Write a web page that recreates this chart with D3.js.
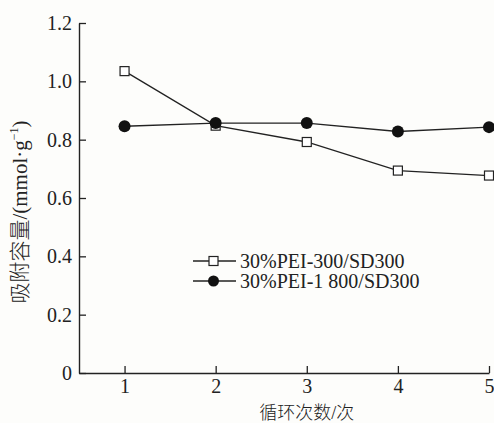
<!DOCTYPE html>
<html>
<head>
<meta charset="utf-8">
<script src="https://cdn.jsdelivr.net/npm/d3@7/dist/d3.min.js"></script>
<style>
  body { margin: 0; background: #fdfdfb; }
  svg { display: block; }
  svg text { font-family: "Liberation Serif", "Times New Roman", serif; fill: #222; }
  svg .cjk { font-family: "Noto Sans CJK SC", sans-serif; font-weight: 300; }
</style>
</head>
<body>
<div id="chart"></div>
<script>
// cycle number
var cycles = [1, 2, 3, 4, 5];
// adsorption capacity, mmol/g
var pei300 = [1.035, 0.848, 0.792, 0.694, 0.677];
var pei1800 = [0.846, 0.857, 0.857, 0.828, 0.843];
var seriesNames = ['30%PEI-300/SD300', '30%PEI-1 800/SD300'];
var yTicks = [0, 0.2, 0.4, 0.6, 0.8, 1.0, 1.2];

var W = 494, H = 423;
var margin = {top: 23, right: 5, bottom: 50, left: 79};
var width = W - margin.left - margin.right;
var height = H - margin.top - margin.bottom;
var serif = '"Liberation Serif", "Times New Roman", serif';

var svg = d3.select('#chart').append('svg')
    .attr('width', W)
    .attr('height', H);

var g = svg.append('g').attr('transform', 'translate(' + margin.left + ',' + margin.top + ')');

var x = d3.scaleLinear().domain([0.5, 5]).range([0, width]);
var y = d3.scaleLinear().domain([0, 1.2]).range([height, 0]);

// axes, ticks pointing inward
var xAxis = g.append('g')
    .attr('transform', 'translate(0,' + height + ')')
    .call(d3.axisBottom(x).tickValues(cycles).tickSize(-7).tickPadding(6).tickSizeOuter(0).tickFormat(d3.format('d')));

var yAxis = g.append('g')
    .call(d3.axisLeft(y).tickValues(yTicks).tickSize(-7).tickPadding(7).tickSizeOuter(0)
        .tickFormat(function(d) { return d === 0 ? '0' : d3.format('.1f')(d); }));

[xAxis, yAxis].forEach(function(a) {
    a.attr('font-family', serif);
    a.select('.domain').attr('stroke', '#222').attr('stroke-width', 1.4);
    a.selectAll('.tick line').attr('stroke', '#222').attr('stroke-width', 1.3);
    a.selectAll('.tick text').attr('font-size', 20).attr('fill', '#222')
        .style('font-family', serif);
});

// axis titles
var xTitle = svg.append('text')
    .attr('x', margin.left + x(3))
    .attr('y', 419)
    .attr('text-anchor', 'middle')
    .attr('font-size', 18);
xTitle.append('tspan').attr('class', 'cjk').text('循环次数');
xTitle.append('tspan').text('/');
xTitle.append('tspan').attr('class', 'cjk').text('次');

var yTitle = svg.append('text')
    .attr('transform', 'translate(27,212) rotate(-90)')
    .attr('text-anchor', 'middle')
    .attr('font-size', 21);
yTitle.append('tspan').attr('class', 'cjk').text('吸附容量');
yTitle.append('tspan').text('/(mmol·g');
yTitle.append('tspan').attr('font-size', 12).attr('dy', -9).text('−1');
yTitle.append('tspan').attr('dy', 9).text(')');

var line = d3.line()
    .x(function(d, i) { return x(cycles[i]); })
    .y(function(d) { return y(d); });

function drawSeries(values, shape) {
    g.append('path')
        .datum(values)
        .attr('fill', 'none')
        .attr('stroke', '#222')
        .attr('stroke-width', 1.3)
        .attr('d', line);
    var pts = g.append('g').selectAll('.pt').data(values).enter();
    if (shape === 'square') {
        pts.append('rect')
            .attr('x', function(d, i) { return x(cycles[i]) - 4.5; })
            .attr('y', function(d) { return y(d) - 4.5; })
            .attr('width', 9).attr('height', 9)
            .attr('fill', '#fff').attr('stroke', '#222').attr('stroke-width', 1.2);
    } else {
        pts.append('circle')
            .attr('cx', function(d, i) { return x(cycles[i]); })
            .attr('cy', function(d) { return y(d); })
            .attr('r', 6)
            .attr('fill', '#111');
    }
}

drawSeries(pei300, 'square');
drawSeries(pei1800, 'circle');

// legend
var legend = svg.append('g').attr('transform', 'translate(193,261)');
var rows = legend.selectAll('g').data(seriesNames).enter().append('g')
    .attr('transform', function(d, i) { return 'translate(0,' + i * 20 + ')'; });
rows.append('line')
    .attr('x1', 0).attr('x2', 43).attr('y1', 0).attr('y2', 0)
    .attr('stroke', '#222').attr('stroke-width', 1.3);
rows.filter(function(d, i) { return i === 0; }).append('rect')
    .attr('x', 16).attr('y', -4.5).attr('width', 9).attr('height', 9)
    .attr('fill', '#fff').attr('stroke', '#222').attr('stroke-width', 1.2);
rows.filter(function(d, i) { return i === 1; }).append('circle')
    .attr('cx', 20.5).attr('cy', 0).attr('r', 5.5).attr('fill', '#111');
rows.append('text')
    .attr('x', 47)
    .attr('y', 6.5)
    .attr('font-size', 20)
    .style('font-family', serif)
    .text(function(d) { return d; });
</script>
</body>
</html>
